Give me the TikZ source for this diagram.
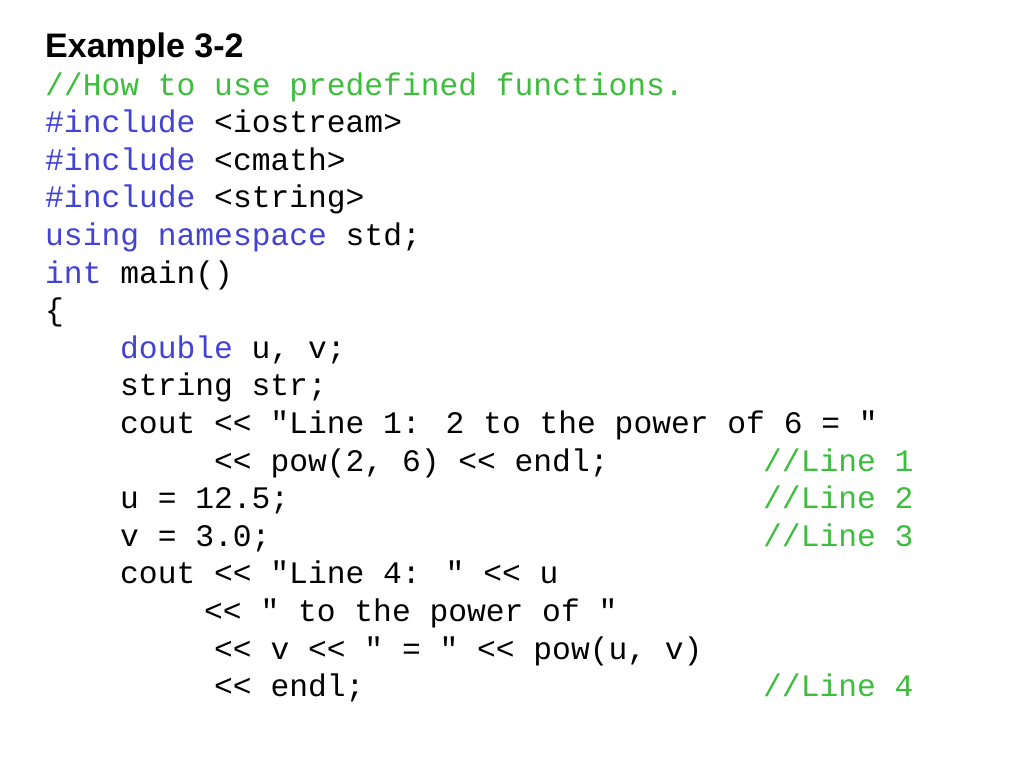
\documentclass[tikz,border=0pt]{standalone}
\usepackage{fontspec}
\setmainfont{Liberation Sans}
\newfontfamily\codefont{Liberation Mono}
\definecolor{kw}{RGB}{66,66,214}
\definecolor{cm}{RGB}{60,190,60}
\begin{document}
\begin{tikzpicture}[x=1pt,y=-1pt,
  code/.style={anchor=base west,inner sep=0pt,font=\codefont\fontsize{31.3}{36}\selectfont,text=black},
  ttl/.style={anchor=base west,inner sep=0pt,font=\bfseries\fontsize{34}{40}\selectfont}]
\useasboundingbox[fill=white] (0,0) rectangle (1024,768);
\def\L#1{\fpeval{95+37.6*(#1)}}
\node[ttl] (title) at (45,57) {Example 3-2};
\node[code,text=cm] (l0) at (45,{95}) {//How to use predefined functions.};
\node[code] (l1) at (45,{95+37.6*1}) {\textcolor{kw}{\#include} <iostream>};
\node[code] (l2) at (45,{95+37.6*2}) {\textcolor{kw}{\#include} <cmath>};
\node[code] (l3) at (45,{95+37.6*3}) {\textcolor{kw}{\#include} <string>};
\node[code] (l4) at (45,{95+37.6*4}) {\textcolor{kw}{using namespace} std;};
\node[code] (l5) at (45,{95+37.6*5}) {\textcolor{kw}{int} main()};
\node[code] (l6) at (45,{95+37.6*6}) {\{};
\node[code] (l7) at (120,{95+37.6*7}) {\textcolor{kw}{double} u, v;};
\node[code] (l8) at (120,{95+37.6*8}) {string str;};
\node[code] (l9) at (120,{95+37.6*9}) {cout << "Line 1: 2 to the power of 6 = "};
\node[code] (l10) at (214,{95+37.6*10}) {<< pow(2, 6) << endl;};
\node[code] (l11) at (120,{95+37.6*11}) {u = 12.5;};
\node[code] (l12) at (120,{95+37.6*12}) {v = 3.0;};
\node[code] (l13) at (120,{95+37.6*13}) {cout << "Line 4: " << u};
\node[code] (l14) at (204,{95+37.6*14}) {<< " to the power of "};
\node[code] (l15) at (214,{95+37.6*15}) {<< v << " = " << pow(u, v)};
\node[code] (l16) at (214,{95+37.6*16}) {<< endl;};
\node[code,text=cm] (c1) at (763,{95+37.6*10}) {//Line 1};
\node[code,text=cm] (c2) at (763,{95+37.6*11}) {//Line 2};
\node[code,text=cm] (c3) at (763,{95+37.6*12}) {//Line 3};
\node[code,text=cm] (c4) at (763,{95+37.6*16}) {//Line 4};
\end{tikzpicture}
\end{document}
